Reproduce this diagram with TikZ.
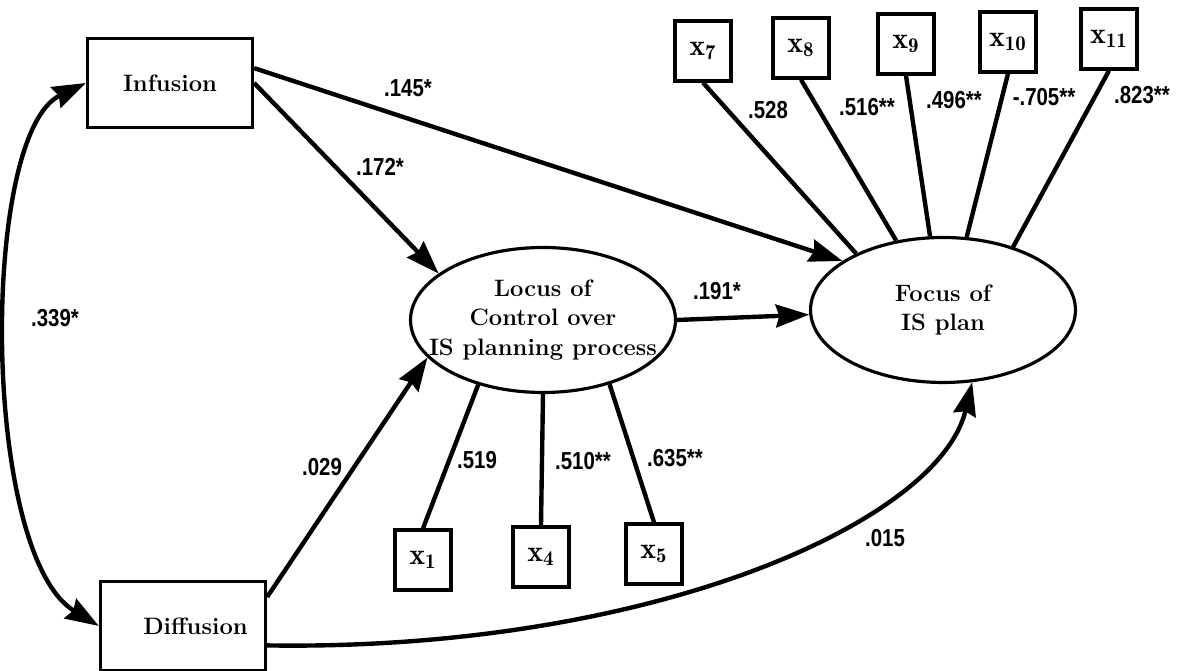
\documentclass[tikz,border=0pt]{standalone}
\usepackage{fontspec}
\usepackage{tikz}
\usetikzlibrary{arrows.meta,shapes.geometric}
\newfontfamily\coeffont[FakeStretch=0.83]{Liberation Sans}

\begin{document}
\begin{tikzpicture}[
  x=0.02cm,y=0.02cm,
  construct/.style={draw,line width=1.9pt,fill=white,align=center,inner sep=0pt,
    minimum width=3.3cm,minimum height=1.77cm,font=\fontsize{13.5}{17}\selectfont\bfseries},
  latent/.style={ellipse,draw,line width=1.8pt,fill=white,align=center,inner sep=0pt,
    inner xsep=-1cm,minimum width=5.3cm,minimum height=2.9cm,font=\fontsize{13.5}{17}\selectfont\bfseries},
  item/.style={draw,line width=1.9pt,fill=white,inner sep=0pt,minimum width=1.12cm,
    minimum height=1.2cm,font=\fontsize{17}{19}\selectfont},
  coef/.style={inner sep=1pt,font=\fontsize{14}{16}\selectfont\coeffont\bfseries},
  arrow/.style={-{Stealth[length=19pt,width=13pt,inset=2pt]},line width=2.5pt},
  twoway/.style={{Stealth[length=19pt,width=13pt,inset=2pt]}-{Stealth[length=19pt,width=13pt,inset=2pt]},line width=2.5pt},
  loading/.style={line width=2.5pt}
]
\useasboundingbox (0,0) rectangle (1188,671);
\node[construct] (infusion) at (170,588) {Infusion};
\node[construct] (diffusion) at (183,45) {\hspace*{0.5cm}Diffusion};
\node[latent] (locus) at (543,351) {Locus of\\Control over\\IS planning process};
\node[latent] (focus) at (943,361) {Focus of\\IS plan};
\node[item] (x1) at (423,111) {$\mathbf{x}_{\mathbf{1}}$};
\node[item] (x4) at (541,114) {$\mathbf{x}_{\mathbf{4}}$};
\node[item] (x5) at (654,117) {$\mathbf{x}_{\mathbf{5}}$};
\node[item] (x7) at (703,620) {$\mathbf{x}_{\mathbf{7}}$};
\node[item] (x8) at (801,623) {$\mathbf{x}_{\mathbf{8}}$};
\node[item] (x9) at (906,627) {$\mathbf{x}_{\mathbf{9}}$};
\node[item] (x10) at (1008,629) {$\mathbf{x}_{\mathbf{10}}$};
\node[item] (x11) at (1109,632) {$\mathbf{x}_{\mathbf{11}}$};
% structural paths
\draw[arrow] (infusion.east) -- (locus.156);
\draw[arrow] (infusion.10) -- (focus.154);
\draw[arrow] (diffusion.19) -- (locus.198);
\draw[arrow] (locus.east) -- (focus.182);
\draw[arrow] (diffusion.-13) .. controls +(382,-6) and +(-33,-140) .. (focus.292);
\draw[twoway] (infusion.west) .. controls +(-106,-51) and +(-118,72) .. (diffusion.west);
% measurement items
\draw[loading] (locus.225) -- (x1.north);
\draw[loading] (locus.270) -- (x4.north);
\draw[loading] (locus.316) -- (x5.north);
\draw[loading] (x7.south) -- (focus.147);
\draw[loading] (x8.south) -- (focus.124);
\draw[loading] (x9.south) -- (focus.100);
\draw[loading] (x10.south) -- (focus.72);
\draw[loading] (x11.south) -- (focus.42);
% coefficients
\node[coef] (inf-foc) at (408,583) {.145*};
\node[coef] (inf-loc) at (380,504) {.172*};
\node[coef] (inf-dif) at (55,353) {.339*};
\node[coef] (dif-loc) at (322,204) {.029};
\node[coef] (loc-foc) at (717,380) {.191*};
\node[coef] (dif-foc) at (885,133) {.015};
\node[coef] (ld1) at (477,211) {.519};
\node[coef] (ld4) at (583,210) {.510**};
\node[coef] (ld5) at (675,213) {.635**};
\node[coef] (ld7) at (768,561) {.528};
\node[coef] (ld8) at (867,564) {.516**};
\node[coef] (ld9) at (954,571) {.496**};
\node[coef] (ld10) at (1044,574) {-.705**};
\node[coef] (ld11) at (1142,576) {.823**};
\end{tikzpicture}
\end{document}
